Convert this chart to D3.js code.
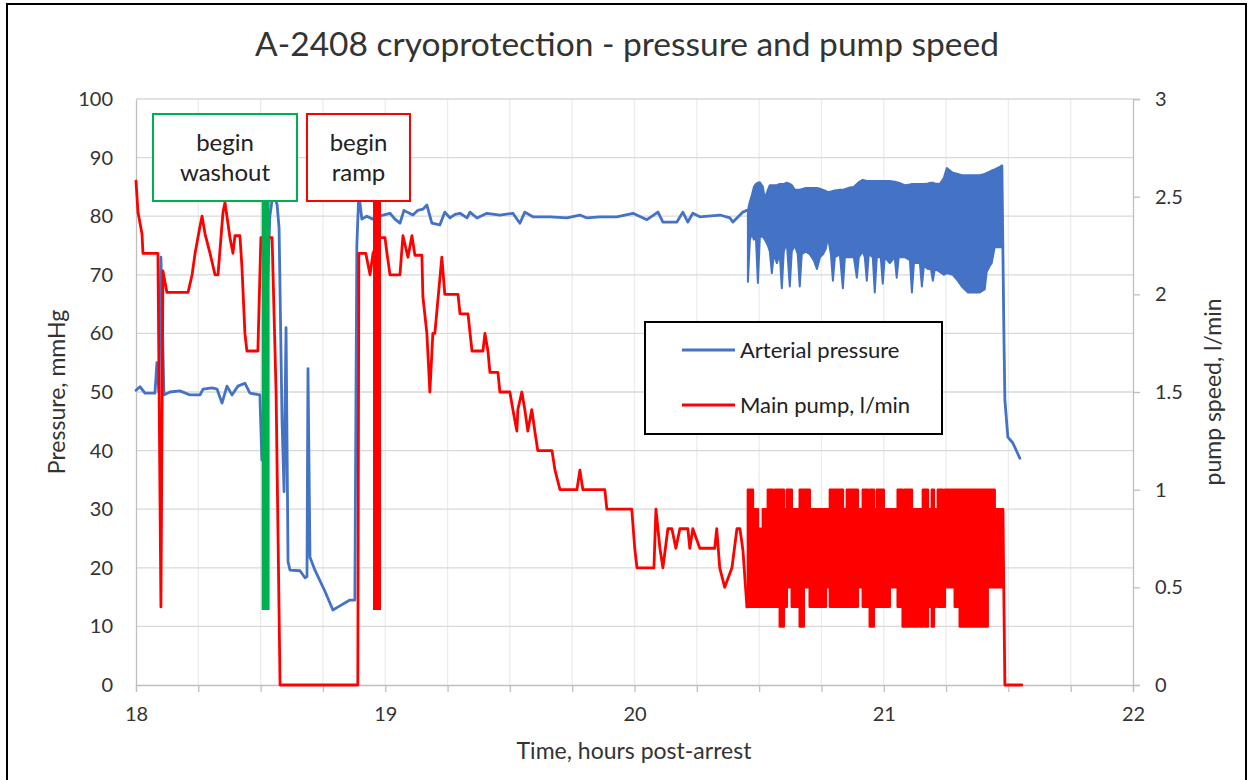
<!DOCTYPE html>
<html lang="en">
<head>
<meta charset="UTF-8">
<title>A-2408 cryoprotection - pressure and pump speed</title>
<script src="https://d3js.org/d3.v7.min.js"></script>
<style>
  body { margin: 0; background: #fff; }
  svg text { font-family: Lato, "Open Sans", sans-serif; fill: #333; }
  .axis path, .axis line { stroke: #bfbfbf; stroke-width: 1.3; }
  .axis text { font-size: 20px; fill: #333; }
</style>
</head>
<body>
<svg width="1251" height="780"></svg>
<script>
// ---- data (hours post-arrest) ----
const pressureTime = [18.000, 18.016, 18.036, 18.076, 18.084, 18.092, 18.100, 18.112, 18.136, 18.176,
  18.217, 18.257, 18.269, 18.305, 18.325, 18.345, 18.365, 18.385, 18.409, 18.437,
  18.457, 18.497, 18.505, 18.517, 18.537, 18.550, 18.566, 18.574, 18.586, 18.594,
  18.602, 18.610, 18.618, 18.658, 18.678, 18.686, 18.690, 18.698, 18.718, 18.758,
  18.790, 18.818, 18.858, 18.878, 18.886, 18.894, 18.906, 18.926, 18.950, 18.991,
  19.019, 19.039, 19.059, 19.075, 19.087, 19.111, 19.131, 19.151, 19.167, 19.187,
  19.219, 19.239, 19.260, 19.280, 19.300, 19.328, 19.340, 19.368, 19.408, 19.460,
  19.512, 19.540, 19.560, 19.592, 19.661, 19.729, 19.781, 19.809, 19.861, 19.929,
  19.994, 20.050, 20.094, 20.114, 20.170, 20.194, 20.214, 20.234, 20.262, 20.343,
  20.383, 20.395, 20.435, 20.451];
const pressure = [50.3, 50.9, 49.8, 49.8, 55, 50, 73, 49.5, 50, 50.2,
  49.5, 49.5, 50.5, 50.7, 50.5, 48.1, 51, 49.5, 51, 51.5,
  49.8, 49.5, 38.4, 55, 80, 84, 82, 78, 45, 33,
  61, 21, 19.6, 19.5, 18.3, 18.5, 54, 21.8, 19.6, 16,
  12.8, 13.5, 14.5, 14.5, 75, 84, 79.5, 80, 79.5, 80.2,
  80.5, 79.5, 78.8, 81, 80.7, 80.2, 81, 81.2, 81.9, 78.8,
  78.5, 80.7, 79.7, 80.3, 80.5, 79.7, 80.7, 79.7, 80.5, 80.2,
  80.5, 78.8, 80.7, 79.9, 79.9, 79.7, 80.2, 79.7, 79.9, 79.9,
  80.5, 79.4, 80.7, 79, 79, 80.7, 79, 80.5, 79.9, 80.2,
  79.7, 79, 80.7, 81];
// oscillating part: high and low of the trace at each reading
const pressBandTime = [20.455, 20.463, 20.471, 20.479, 20.487, 20.495, 20.503, 20.515, 20.523, 20.535,
  20.543, 20.551, 20.559, 20.571, 20.583, 20.591, 20.599, 20.611, 20.623, 20.631,
  20.643, 20.655, 20.663, 20.671, 20.687, 20.703, 20.719, 20.732, 20.744, 20.756,
  20.768, 20.776, 20.788, 20.796, 20.804, 20.824, 20.836, 20.844, 20.864, 20.880,
  20.892, 20.900, 20.916, 20.924, 20.932, 20.940, 20.956, 20.964, 20.972, 20.988,
  20.996, 21.004, 21.024, 21.044, 21.052, 21.060, 21.084, 21.105, 21.113, 21.121,
  21.133, 21.145, 21.153, 21.161, 21.177, 21.189, 21.197, 21.205, 21.225, 21.241,
  21.253, 21.277, 21.297, 21.313, 21.337, 21.385, 21.405, 21.413, 21.425, 21.433,
  21.445, 21.474];
const pressHigh = [81, 82.5, 83.6, 85, 85.5, 85.7, 85.8, 85, 83, 84.5,
  85.3, 85.3, 85.3, 85.3, 85.5, 85.5, 85.5, 85.7, 85.5, 85.3,
  84.5, 84.5, 84.5, 84.6, 84.8, 84.8, 84.8, 84.8, 84.7, 84.5,
  84.3, 84.1, 84.2, 84.3, 84.4, 84.5, 84.5, 84.6, 84.9, 85,
  85.5, 85.8, 86.2, 86.1, 86, 86, 86, 86, 86, 86,
  86, 86, 86, 85.9, 85.8, 85.7, 85.3, 85.4, 85.5, 85.5,
  85.5, 85.5, 85.5, 85.5, 85.6, 85.7, 85.7, 85.6, 85.5, 86.5,
  88.2, 87.4, 87.2, 87, 87, 87, 87.2, 87.4, 87.6, 87.8,
  88, 88.6];
const pressLow = [68.8, 76, 77, 76, 76.5, 68.6, 76.5, 76.5, 76, 75,
  74, 70.3, 73.5, 72, 73.5, 67.7, 74, 75.5, 68, 74,
  75, 73.5, 68, 73.5, 74, 73.5, 72.5, 71, 73, 73.5,
  74.5, 76.5, 73.5, 69, 73, 73.5, 67.7, 73, 73, 73,
  69.5, 73, 74, 73, 69, 73.5, 73, 67, 73, 73,
  68.5, 73, 72, 73, 69.5, 73, 73, 72.5, 67, 72,
  72, 72, 68, 71.5, 71, 71, 69, 71, 70.5, 70,
  70.3, 70, 69, 68, 67, 67, 67.5, 70.5, 71.5, 72,
  74.7, 74.7];
const pressTailTime = [21.476, 21.482, 21.486, 21.498, 21.518, 21.546];
const pressTail = [81.4, 60, 48.6, 42.3, 41.3, 38.7];

const pumpTime = [18.000, 18.008, 18.024, 18.028, 18.088, 18.100, 18.108, 18.124, 18.209, 18.225,
  18.237, 18.257, 18.265, 18.277, 18.297, 18.317, 18.329, 18.349, 18.357, 18.377,
  18.389, 18.397, 18.417, 18.425, 18.437, 18.445, 18.489, 18.501, 18.546, 18.562,
  18.578, 18.890, 18.894, 18.922, 18.939, 18.951, 18.979, 18.999, 19.007, 19.019,
  19.059, 19.071, 19.091, 19.107, 19.119, 19.147, 19.151, 19.167, 19.179, 19.191,
  19.199, 19.227, 19.239, 19.292, 19.300, 19.332, 19.348, 19.392, 19.400, 19.412,
  19.420, 19.452, 19.460, 19.500, 19.512, 19.528, 19.532, 19.548, 19.560, 19.572,
  19.588, 19.600, 19.612, 19.669, 19.681, 19.701, 19.769, 19.781, 19.793, 19.881,
  19.889, 19.989, 20.001, 20.010, 20.078, 20.086, 20.102, 20.114, 20.134, 20.150,
  20.166, 20.182, 20.214, 20.222, 20.234, 20.262, 20.322, 20.330, 20.342, 20.362,
  20.391, 20.411, 20.423, 20.435, 20.451];
const pump = [2.58, 2.42, 2.31, 2.21, 2.21, 0.4, 2.12, 2.01, 2.01, 2.10,
  2.21, 2.35, 2.40, 2.31, 2.21, 2.10, 2.10, 2.42, 2.47, 2.29,
  2.21, 2.30, 2.30, 2.14, 1.80, 1.71, 1.71, 2.29, 2.29, 1.50,
  0, 0, 2.21, 2.21, 2.10, 2.21, 2.29, 2.29, 2.21, 2.10,
  2.10, 2.30, 2.19, 2.30, 2.20, 2.20, 1.99, 1.80, 1.50, 1.80,
  1.80, 2.19, 2.00, 2.00, 1.90, 1.90, 1.71, 1.71, 1.80, 1.71,
  1.60, 1.60, 1.50, 1.50, 1.41, 1.30, 1.41, 1.50, 1.41, 1.30,
  1.41, 1.30, 1.20, 1.20, 1.10, 1.00, 1.00, 1.10, 1.00, 1.00,
  0.90, 0.90, 0.70, 0.60, 0.60, 0.90, 0.70, 0.60, 0.80, 0.80,
  0.70, 0.80, 0.80, 0.70, 0.80, 0.70, 0.70, 0.80, 0.60, 0.50,
  0.60, 0.80, 0.80, 0.69, 0.40];
const pumpBandTime = [20.455, 20.475, 20.495, 20.515, 20.535, 20.555, 20.563, 20.583, 20.599, 20.611,
  20.631, 20.651, 20.663, 20.679, 20.703, 20.744, 20.768, 20.784, 20.836, 20.852,
  20.896, 20.916, 20.936, 20.944, 20.960, 20.972, 21.000, 21.024, 21.056, 21.076,
  21.084, 21.113, 21.117, 21.137, 21.145, 21.157, 21.165, 21.177, 21.193, 21.201,
  21.209, 21.217, 21.237, 21.245, 21.285, 21.305, 21.417, 21.445, 21.478];
const pumpHigh = [1.0, 0.9, 0.8, 0.9, 1.0, 0.9, 1.0, 1.0, 0.9, 1.0,
  0.9, 0.9, 1.0, 1.0, 0.9, 0.9, 0.9, 1.0, 0.9, 1.0,
  0.9, 1.0, 0.9, 1.0, 0.9, 1.0, 0.9, 0.9, 1.0, 0.9,
  1.0, 0.9, 0.9, 0.9, 0.9, 1.0, 1.0, 0.9, 1.0, 0.9,
  0.8, 1.0, 0.9, 1.0, 1.0, 1.0, 1.0, 0.9, 0.9];
const pumpLow = [0.4, 0.4, 0.4, 0.4, 0.4, 0.4, 0.4, 0.3, 0.4, 0.5,
  0.4, 0.4, 0.3, 0.5, 0.4, 0.4, 0.5, 0.4, 0.4, 0.4,
  0.5, 0.4, 0.4, 0.3, 0.4, 0.4, 0.4, 0.5, 0.4, 0.3,
  0.3, 0.4, 0.3, 0.4, 0.3, 0.4, 0.3, 0.4, 0.3, 0.4,
  0.5, 0.4, 0.4, 0.5, 0.4, 0.3, 0.5, 0.5, 0.5];
const pumpTailTime = [21.478, 21.486, 21.554];
const pumpTail = [0.9, 0, 0];

// event markers: time, and the lowest pressure the marker bar reaches
const markerLabels = [["begin", "washout"], ["begin", "ramp"]];
const markerTime = [18.52, 18.967];
const markerLow = [12.8, 12.8];
const markerColours = ["#00b050", "#ff0000"];

const xTicks = [18, 19, 20, 21, 22];
const xMinorTicks = d3.range(18, 22.001, 0.25);
const pressureTicks = [0, 10, 20, 30, 40, 50, 60, 70, 80, 90, 100];
const pumpTicks = [0, 0.5, 1, 1.5, 2, 2.5, 3];
const seriesNames = ["Arterial pressure", "Main pump, l/min"];
const seriesColours = ["#4472c4", "#ff0000"];

// ---- layout ----
const svg = d3.select("svg");
const x = d3.scaleLinear().domain([18, 22]).range([136, 1133]);
const yP = d3.scaleLinear().domain([0, 100]).range([685, 99]);
const yF = d3.scaleLinear().domain([0, 3]).range([685, 99]);

// outer frame
svg.append("rect").attr("x", 7).attr("y", 4).attr("width", 1239).attr("height", 800)
  .attr("fill", "#fff").attr("stroke", "#000").attr("stroke-width", 2);

// grid
svg.append("g").selectAll("line").data(xMinorTicks.filter(d => d > 18 && d < 22)).join("line")
  .attr("x1", d => x(d)).attr("x2", d => x(d)).attr("y1", yP(100)).attr("y2", yP(0))
  .attr("stroke", "#ececec").attr("stroke-width", 1.3);
svg.append("g").selectAll("line").data(pressureTicks.filter(d => d > 0)).join("line")
  .attr("x1", x(18)).attr("x2", x(22)).attr("y1", d => yP(d)).attr("y2", d => yP(d))
  .attr("stroke", "#d9d9d9").attr("stroke-width", 1.3);

// axes
svg.append("g").attr("class", "axis").attr("transform", `translate(0,${yP(0)})`)
  .call(d3.axisBottom(x).tickValues(xMinorTicks).tickSize(7).tickPadding(15)
    .tickFormat(d => xTicks.includes(d) ? d : ""));
svg.append("g").attr("class", "axis").attr("transform", `translate(${x(18)},0)`)
  .call(d3.axisLeft(yP).tickValues(pressureTicks).tickSize(0).tickPadding(23));
svg.append("g").attr("class", "axis").attr("transform", `translate(${x(22)},0)`)
  .call(d3.axisRight(yF).tickValues(pumpTicks).tickSize(7).tickPadding(15).tickFormat(d3.format("")));

// titles
svg.append("text").attr("x", 627).attr("y", 56).attr("text-anchor", "middle")
  .style("font-size", "33.5px").text("A-2408 cryoprotection - pressure and pump speed");
svg.append("text").attr("x", 634).attr("y", 759).attr("text-anchor", "middle")
  .style("font-size", "23px").text("Time, hours post-arrest");
svg.append("text").attr("transform", "translate(65,392) rotate(-90)").attr("text-anchor", "middle")
  .style("font-size", "23px").text("Pressure, mmHg");
svg.append("text").attr("transform", "translate(1221,392) rotate(-90)").attr("text-anchor", "middle")
  .style("font-size", "23px").text("pump speed, l/min");

// series
const line = (ys) => d3.line().x(d => x(d[0])).y(d => ys(d[1]));
const zip = (a, b) => a.map((t, i) => [t, b[i]]);
const lineStyle = (sel, c) => sel.attr("fill", "none").attr("stroke", c).attr("stroke-width", 2.8)
  .attr("stroke-linejoin", "round").attr("stroke-linecap", "round");

// arterial pressure
svg.append("path").attr("d", line(yP)(zip(pressureTime, pressure))).call(lineStyle, seriesColours[0]);
svg.append("path")
  .attr("d", d3.area().x(d => x(d[0])).y0(d => yP(d[2])).y1(d => yP(d[1]))
    (pressBandTime.map((t, i) => [t, pressHigh[i], pressLow[i]])))
  .attr("fill", seriesColours[0]).attr("stroke", seriesColours[0]).attr("stroke-width", 2)
  .attr("stroke-linejoin", "round");
svg.append("path").attr("d", line(yP)([[pressBandTime[pressBandTime.length - 1], pressHigh[pressHigh.length - 1]]]
  .concat(zip(pressTailTime, pressTail)))).call(lineStyle, seriesColours[0]);

// main pump
svg.append("path").attr("d", line(yF)(zip(pumpTime, pump))).call(lineStyle, seriesColours[1]);
svg.append("path")
  .attr("d", d3.area().curve(d3.curveStepAfter).x(d => x(d[0])).y0(d => yF(d[2])).y1(d => yF(d[1]))
    (pumpBandTime.map((t, i) => [t, pumpHigh[i], pumpLow[i]])))
  .attr("fill", seriesColours[1]).attr("stroke", seriesColours[1]).attr("stroke-width", 2.5)
  .attr("stroke-linejoin", "round");
svg.append("path").attr("d", line(yF)([[pumpTime[pumpTime.length - 1], pump[pump.length - 1]],
  [pumpBandTime[0], pumpLow[0]]])).call(lineStyle, seriesColours[1]);
svg.append("path").attr("d", line(yF)(zip(pumpTailTime, pumpTail))).call(lineStyle, seriesColours[1]);

// event markers
const boxes = [{ x: 153, w: 144 }, { x: 307, w: 103 }];
const boxTop = 114, boxH = 87;
markerTime.forEach((t, i) => {
  svg.append("rect").attr("x", x(t) - 4).attr("width", 8)
    .attr("y", boxTop + boxH).attr("height", yP(markerLow[i]) - boxTop - boxH)
    .attr("fill", markerColours[i]);
  svg.append("rect").attr("x", boxes[i].x).attr("y", boxTop).attr("width", boxes[i].w).attr("height", boxH)
    .attr("fill", "#fff").attr("stroke", markerColours[i]).attr("stroke-width", 2);
  markerLabels[i].forEach((s, k) => {
    svg.append("text").attr("x", boxes[i].x + boxes[i].w / 2).attr("y", boxTop + 37 + k * 30)
      .attr("text-anchor", "middle").style("font-size", "24px").style("fill", "#222").text(s);
  });
});

// legend
const lg = svg.append("g").attr("transform", "translate(645,322)");
lg.append("rect").attr("width", 297).attr("height", 112).attr("fill", "#fff")
  .attr("stroke", "#000").attr("stroke-width", 2);
seriesNames.forEach((name, i) => {
  const ly = 28 + i * 55;
  lg.append("line").attr("x1", 37).attr("x2", 90).attr("y1", ly).attr("y2", ly)
    .attr("stroke", seriesColours[i]).attr("stroke-width", 2.8);
  lg.append("text").attr("x", 95).attr("y", ly + 8).style("font-size", "22px").style("fill", "#222").text(name);
});
</script>
</body>
</html>
